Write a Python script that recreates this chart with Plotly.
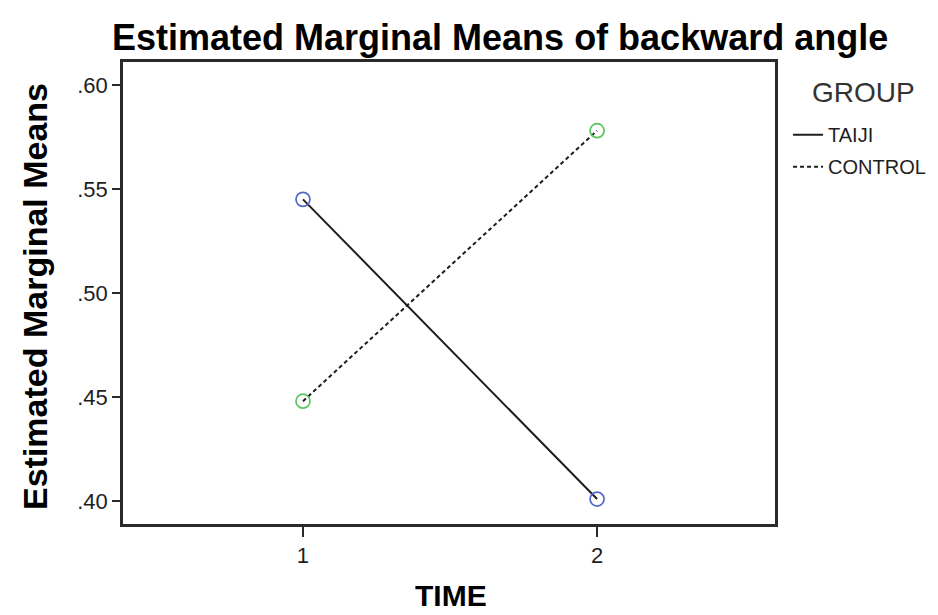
import plotly.graph_objects as go

time_points = [1, 2]
taiji = [0.545, 0.401]
control = [0.448, 0.578]
y_ticks = [0.40, 0.45, 0.50, 0.55, 0.60]
y_tick_labels = [".40", ".45", ".50", ".55", ".60"]
x_ticks = [1, 2]
x_tick_labels = ["1", "2"]

FONT = "Liberation Sans, Arial, sans-serif"

fig = go.Figure()
fig.add_trace(go.Scatter(x=time_points, y=taiji, mode="lines", name="TAIJI",
                         line=dict(color="#1e1e1e", width=2), legendgroup="a"))
fig.add_trace(go.Scatter(x=time_points, y=control, mode="lines", name="CONTROL",
                         line=dict(color="#1e1e1e", width=2, dash="4px,3px"), legendgroup="b"))
fig.add_trace(go.Scatter(x=time_points, y=taiji, mode="markers", showlegend=False,
                         marker=dict(symbol="circle-open", size=14, color="#5367c8",
                                     line=dict(width=1.7, color="#5367c8"))))
fig.add_trace(go.Scatter(x=time_points, y=control, mode="markers", showlegend=False,
                         marker=dict(symbol="circle-open", size=14, color="#58c45c",
                                     line=dict(width=1.7, color="#58c45c"))))

fig.update_layout(
    width=938, height=615,
    margin=dict(l=115, r=171, t=54, b=99, autoexpand=False),
    paper_bgcolor="white", plot_bgcolor="white",
    font=dict(family=FONT, color="#222222"),
    xaxis=dict(range=[0.388, 2.605], tickvals=x_ticks, ticktext=x_tick_labels,
               showgrid=False, zeroline=False, showline=True, linecolor="#2a2a2a",
               linewidth=2.5, mirror=True, ticks="outside", ticklen=10, tickwidth=2,
               tickcolor="#2a2a2a", tickfont=dict(size=22, color="#1e1e1e"), automargin=False),
    yaxis=dict(range=[0.389, 0.611], tickvals=y_ticks, ticktext=y_tick_labels,
               showgrid=False, zeroline=False, showline=True, linecolor="#2a2a2a",
               linewidth=2.5, mirror=True, ticks="outside", ticklen=8, tickwidth=2,
               tickcolor="#2a2a2a", tickfont=dict(size=22, color="#1e1e1e"), automargin=False),
    legend=dict(x=1.02, xanchor="left", y=0.885, yanchor="top",
                font=dict(size=20, color="#1e1e1e"),
                tracegroupgap=3, bgcolor="rgba(0,0,0,0)", itemwidth=30),
    annotations=[
        dict(text="<b>Estimated Marginal Means of backward angle</b>", xref="paper", yref="paper",
             x=0.578, y=1.052, xanchor="center", yanchor="middle", showarrow=False,
             font=dict(size=36, color="black", family=FONT)),
        dict(text="<b>Estimated Marginal Means</b>", xref="paper", yref="paper",
             x=-0.135, y=0.4935, xanchor="center", yanchor="middle", showarrow=False,
             textangle=-90, font=dict(size=34, color="black", family=FONT)),
        dict(text="<b>TIME</b>", xref="paper", yref="paper",
             x=0.503, y=-0.154, xanchor="center", yanchor="middle", showarrow=False,
             font=dict(size=30, color="black", family=FONT)),
        dict(text="GROUP", xref="paper", yref="paper", x=1.135, y=0.933,
             xanchor="center", yanchor="middle", showarrow=False,
             font=dict(size=28, color="#333333", family=FONT)),
    ],
)

fig.write_html("out.html")
